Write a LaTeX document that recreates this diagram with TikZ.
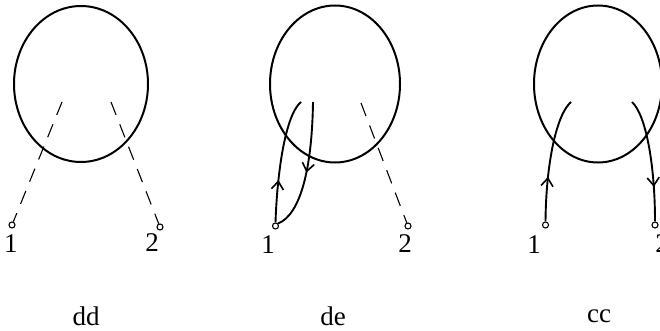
\documentclass[tikz,border=0pt]{standalone}
\usepackage{fontspec}
\setmainfont{Liberation Serif}
\usetikzlibrary{arrows.meta,decorations.markings,shapes.geometric}
\tikzset{
  loopline/.style={line width=2pt},
  wire/.style={line width=1.9pt},
  dashwire/.style={line width=1.1pt,dash pattern=on 14pt off 10pt},
  pt/.style={circle,draw,line width=1.1pt,fill=white,inner sep=0pt,minimum size=6pt},
  lbl/.style={font=\fontsize{27}{32}\selectfont,inner sep=0pt},
  midarrow/.style={postaction={decorate},decoration={markings,
      mark=at position #1 with {\arrow{Straight Barb[length=8pt,width=12pt,line width=1.6pt]}}}}
}
\begin{document}
\begin{tikzpicture}[x=1pt,y=-1pt]
\useasboundingbox (0,0) rectangle (660,331);
\clip (0,0) rectangle (660,331);
% ---------- dd ----------
\node[draw,loopline,ellipse,minimum width=134pt,minimum height=156pt,inner sep=0pt] (Ldd) at (81,84) {};
\coordinate (dA) at (62,102);
\coordinate (dB) at (111,102);
\node[pt] (d1) at (12,225) {};
\node[pt] (d2) at (160,227) {};
\draw[dashwire] (dA) -- (d1);
\draw[dashwire] (dB) -- (d2);
\node[lbl] (d1l) at (11,244) {1};
\node[lbl] (d2l) at (152,243) {2};
\node[lbl] (ddl) at (86,316) {dd};
% ---------- de ----------
\node[draw,loopline,ellipse,minimum width=130pt,minimum height=157pt,inner sep=0pt] (Lde) at (335,84) {};
\coordinate (eA) at (301,102);
\coordinate (eB) at (313,102);
\coordinate (eC) at (361,103);
\node[pt] (e1) at (275.5,226) {};
\node[pt] (e2) at (408,226) {};
\draw[wire,midarrow=0.34] (e1.north) .. controls (277,175) and (285,115) .. (eA);
\draw[wire,midarrow=0.54] (eB) .. controls (312,170) and (300,215) .. (e1.north east);
\draw[dashwire] (eC) -- (e2);
\node[lbl] (e1l) at (268,245) {1};
\node[lbl] (e2l) at (405,244) {2};
\node[lbl] (del) at (333,316) {de};
% ---------- cc ----------
\node[draw,loopline,ellipse,minimum width=128pt,minimum height=157pt,inner sep=0pt] (Lcc) at (598,84) {};
\coordinate (cA) at (571,102);
\coordinate (cB) at (632,102);
\node[pt] (c1) at (545.5,225) {};
\node[pt] (c2) at (655,225) {};
\draw[wire,midarrow=0.36] (c1.north) .. controls (546,165) and (556,115) .. (cA);
\draw[wire,midarrow=0.72] (cB) .. controls (646,115) and (655,165) .. (c2.north);
\node[lbl] (c1l) at (534,245) {1};
\node[lbl] (c2l) at (662,244) {2};
\node[lbl] (ccl) at (599,316) {cc};
\end{tikzpicture}
\end{document}
